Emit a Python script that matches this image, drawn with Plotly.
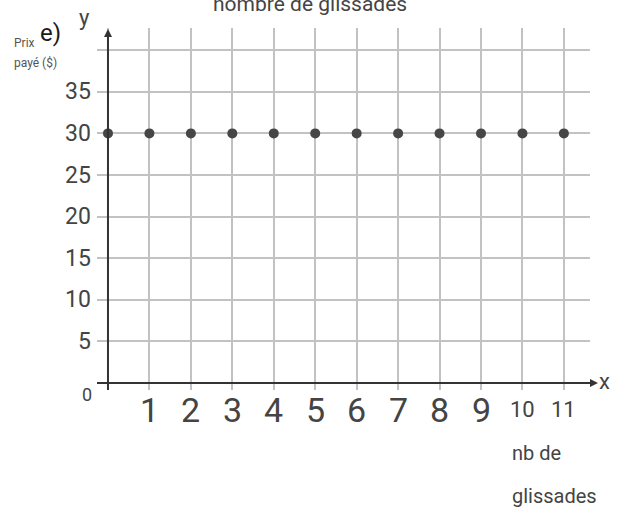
import plotly.graph_objects as go

# Data
nb_glissades = [0, 1, 2, 3, 4, 5, 6, 7, 8, 9, 10, 11]
prix_paye = [30, 30, 30, 30, 30, 30, 30, 30, 30, 30, 30, 30]

x_tick_vals = [1, 2, 3, 4, 5, 6, 7, 8, 9, 10, 11]
x_tick_labels = ["1", "2", "3", "4", "5", "6", "7", "8", "9", "10", "11"]
y_tick_vals = [5, 10, 15, 20, 25, 30, 35]
y_tick_labels = ["5", "10", "15", "20", "25", "30", "35"]
x_grid = [0, 1, 2, 3, 4, 5, 6, 7, 8, 9, 10, 11]
y_grid = [5, 10, 15, 20, 25, 30, 35, 40]

FONT = "Roboto, Liberation Sans, Arial, sans-serif"
TXT = "#444444"

W, H = 617, 511
L, R, T, B = 97, 27, 28, 121
pw = W - L - R
ph = H - T - B

fig = go.Figure()
fig.add_trace(go.Scatter(
    x=nb_glissades, y=prix_paye, mode="markers",
    marker=dict(size=10, color="#464646"),
    showlegend=False, cliponaxis=False, hoverinfo="skip",
))

def px_x(p):
    return (p - L) / pw

def px_y(p):
    return (H - B - p) / ph

annotations = []
# y tick labels
for v, t in zip(y_tick_vals, y_tick_labels):
    annotations.append(dict(xref="paper", yref="y", x=px_x(93), y=v, text=t,
                            showarrow=False, xanchor="right", yanchor="middle",
                            font=dict(size=23, color=TXT, family=FONT)))
# "0" label
annotations.append(dict(xref="paper", yref="paper", x=px_x(87), y=px_y(395), text="0",
                        showarrow=False, xanchor="center", yanchor="middle",
                        font=dict(size=18, color=TXT, family=FONT)))
# x tick labels
for v, t in zip(x_tick_vals, x_tick_labels):
    big = len(t) == 1
    annotations.append(dict(xref="x", yref="paper", x=v, y=px_y(410 if big else 409), text=t,
                            showarrow=False, xanchor="center", yanchor="middle",
                            font=dict(size=34 if big else 22, color=TXT, family=FONT)))
# axis letters
annotations.append(dict(xref="paper", yref="paper", x=px_x(597), y=px_y(381), text="x",
                        showarrow=False, xanchor="left", yanchor="middle",
                        font=dict(size=22, color=TXT, family=FONT)))
annotations.append(dict(xref="paper", yref="paper", x=px_x(84), y=px_y(17), text="y",
                        showarrow=False, xanchor="center", yanchor="middle",
                        font=dict(size=22, color=TXT, family=FONT)))
# axis titles / labels
annotations.append(dict(xref="paper", yref="paper", x=px_x(510), y=px_y(453), text="nb de",
                        showarrow=False, xanchor="left", yanchor="middle",
                        font=dict(size=20, color=TXT, family=FONT)))
annotations.append(dict(xref="paper", yref="paper", x=px_x(510), y=px_y(496), text="glissades",
                        showarrow=False, xanchor="left", yanchor="middle",
                        font=dict(size=20, color=TXT, family=FONT)))
annotations.append(dict(xref="paper", yref="paper", x=px_x(310), y=px_y(4), text="nombre de glissades",
                        showarrow=False, xanchor="center", yanchor="middle",
                        font=dict(size=21, color=TXT, family=FONT)))
annotations.append(dict(xref="paper", yref="paper", x=px_x(12), y=px_y(43), text="Prix",
                        showarrow=False, xanchor="left", yanchor="middle",
                        font=dict(size=12, color="#555555", family=FONT)))
annotations.append(dict(xref="paper", yref="paper", x=px_x(38), y=px_y(33), text="e)",
                        showarrow=False, xanchor="left", yanchor="middle",
                        font=dict(size=24, color="#1a1a1a", family=FONT)))
annotations.append(dict(xref="paper", yref="paper", x=px_x(12), y=px_y(63), text="payé ($)",
                        showarrow=False, xanchor="left", yanchor="middle",
                        font=dict(size=12, color="#555555", family=FONT)))
# arrowheads
annotations.append(dict(xref="paper", yref="y", x=px_x(598), y=0, ax=-8, ay=0, text="",
                        showarrow=True, arrowhead=2, arrowsize=0.8, arrowwidth=2, arrowcolor="#333333"))
annotations.append(dict(xref="x", yref="paper", x=0, y=px_y(29), ax=0, ay=8, text="",
                        showarrow=True, arrowhead=2, arrowsize=0.8, arrowwidth=2, arrowcolor="#333333"))

shapes = [
    dict(type="line", xref="paper", yref="y", x0=px_x(97), x1=px_x(596), y0=0, y1=0,
         line=dict(color="#333333", width=2), layer="above"),
    dict(type="line", xref="x", yref="paper", x0=0, x1=0, y0=0, y1=px_y(31),
         line=dict(color="#333333", width=2), layer="above"),
]

fig.update_layout(
    width=W, height=H,
    margin=dict(l=L, r=R, t=T, b=B),
    paper_bgcolor="white", plot_bgcolor="white",
    xaxis=dict(range=[-0.265, 11.63], tickvals=x_grid, showticklabels=False,
               showgrid=True, gridcolor="#c2c2c2", gridwidth=1.5, zeroline=False,
               showline=False, ticks="", fixedrange=True),
    yaxis=dict(range=[-0.84, 42.67], tickvals=y_grid, showticklabels=False,
               showgrid=True, gridcolor="#c2c2c2", gridwidth=1.5, zeroline=False,
               showline=False, ticks="", fixedrange=True),
    annotations=annotations,
    shapes=shapes,
)

fig.write_html(
    "out.html",
    config={"displayModeBar": False},
    post_script="document.body.style.margin='0';document.body.style.overflow='hidden';",
)
